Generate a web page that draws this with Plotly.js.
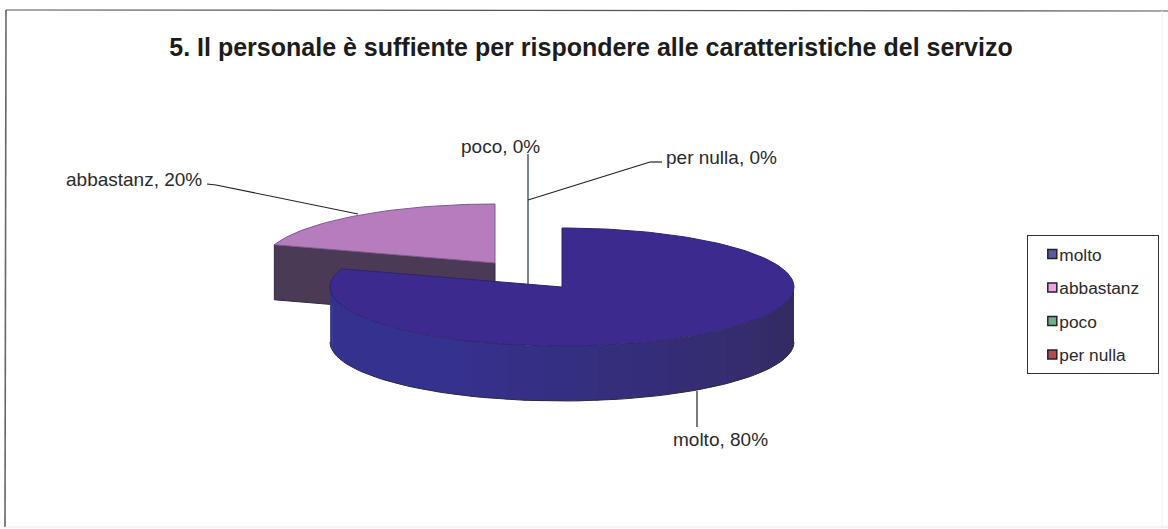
<!DOCTYPE html>
<html><head><meta charset="utf-8">
<script src="https://cdn.plot.ly/plotly-3.0.1.min.js"></script>
<style>html,body{margin:0;padding:0;background:#fff}#c{width:1168px;height:529px}</style>
</head><body><div id="c"></div>
<script>
const categories = ['molto','abbastanz','poco','per nulla'];
const percents = [80,20,0,0];
const titleText = '5. Il personale è suffiente per rispondere alle caratteristiche del servizo';

const topColors = ['#3c2a8e','#b67cbc','#6aa77f','#a84a50'];
const legendColors = ['#5b5a9c','#f2a4e2','#6fae84','#b24c52'];
const edgeColor = '#2a2a40';
const centers = [[562,287],[495,263],[528,285],[528,285]];
const RX = 232, RY = 59, DEPTH = 55;
const font = 'Liberation Sans, Arial, sans-serif';

function pt(c, deg, dy){
  const a = deg*Math.PI/180;
  return [c[0]+RX*Math.sin(a), c[1]-RY*Math.cos(a)+(dy||0)];
}
function mixHex(a,b,t){
  const p=s=>[1,3,5].map(i=>parseInt(s.substr(i,2),16));
  const A=p(a),B=p(b);
  return 'rgb('+A.map((v,i)=>Math.round(v+(B[i]-v)*t)).join(',')+')';
}
function poly(xy,color,line){
  return {type:'scatter',mode:'lines',x:xy.map(p=>p[0]),y:xy.map(p=>p[1]),fill:'toself',
    fillcolor:color,line:line||{width:0,color:color},showlegend:false,hoverinfo:'skip'};
}
const traces = [];
let cum = 0;
const spans = percents.map(v=>{const s=[cum,cum+v*3.6];cum+=v*3.6;return s;});

function drawSlice(i){
  const [s,e] = spans[i];
  if (e<=s) return;
  const c = centers[i];
  if (i===1){
    const A=pt(c,s),B=[c[0],c[1]];
    traces.push(poly([A,B,[B[0],B[1]+DEPTH],[A[0],A[1]+DEPTH],A],'#4a3a56',{width:1,color:'#2f2a3c'}));
  }
  const wallFrom = Math.max(s,90), wallTo = Math.min(e,270);
  if (wallTo>wallFrom){
    const n = 40, step=(wallTo-wallFrom)/n;
    for(let k=0;k<n;k++){
      const a0=wallFrom+k*step,a1=a0+step+0.8;
      const q=[];
      for(let m=0;m<=4;m++) q.push(pt(c,a0+(a1-a0)*m/4));
      for(let m=4;m>=0;m--) q.push(pt(c,a0+(a1-a0)*m/4,DEPTH));
      const t=(a0-wallFrom)/(wallTo-wallFrom);
      traces.push(poly(q,mixHex('#332a5e','#35318f',Math.min(1,t*1.5))));
    }
    const rim=[];
    for(let a=wallFrom;a<=wallTo+0.01;a+=2) rim.push(pt(c,a,DEPTH));
    traces.push({type:'scatter',mode:'lines',x:rim.map(p=>p[0]),y:rim.map(p=>p[1]),
      line:{width:1,color:edgeColor},showlegend:false,hoverinfo:'skip'});
  }
  const face=[[c[0],c[1]]];
  for(let a=s;a<e;a+=1.5) face.push(pt(c,a));
  face.push(pt(c,e)); face.push([c[0],c[1]]);
  traces.push(poly(face,topColors[i],{width:1,color:i===0?'#2d2470':'#7d5a94'}));
}
drawSlice(1);
drawSlice(0);

categories.forEach((name,i)=>traces.push({type:'scatter',mode:'markers',x:[null],y:[null],name:name,
  legendgroup:name,showlegend:true,hoverinfo:'skip',
  marker:{symbol:'square',size:9,color:legendColors[i],line:{width:1.5,color:'#22222e'}}}));

const labelAt = [[720.5,439],[133.5,179],[500,146],[721.5,157]];
const annotations = categories.map((name,i)=>({xref:'x',yref:'y',x:labelAt[i][0],y:labelAt[i][1],
  text:name+', '+percents[i]+'%',showarrow:false,xanchor:'center',yanchor:'middle',
  font:{family:font,size:19,color:'#2a2a2a'}}));

function seg(x0,y0,x1,y1,color,w){return {type:'line',xref:'x',yref:'y',x0,y0,x1,y1,line:{color,width:w||1.2}};}
const shapes=[
  seg(6,10,1168,11,'#555',1.2), seg(6,10,5,527,'#666',1.6),
  seg(5,527,1168,527,'#e6e6e6',1), seg(1162,11,1162,527,'#f0f0f0',1),
  seg(697,391,697,427,'#222'),
  seg(528,154,528,285,'#33424f',1.3),
  seg(528,200,650,162,'#222'), seg(650,162,662,162,'#222'),
  seg(207,184,216,185,'#222'), seg(216,185,358,214,'#222')
];

const layout={
  width:1168,height:529,margin:{l:0,r:0,t:0,b:0},paper_bgcolor:'#fff',plot_bgcolor:'#fff',
  title:{text:titleText,x:591/1168,xanchor:'center',xref:'paper',y:1-47/529,yanchor:'middle',yref:'container',
    font:{family:font,size:25,color:'#1c1c1c',weight:'bold'}},
  xaxis:{range:[0,1168],visible:false,fixedrange:true},
  yaxis:{range:[529,0],visible:false,fixedrange:true},
  showlegend:true,
  legend:{x:1027/1168,xanchor:'left',y:1-235/529,yanchor:'top',bgcolor:'#fff',bordercolor:'#333',borderwidth:1.3,
    font:{family:font,size:17.3,color:'#2a2a2a'},tracegroupgap:8,traceorder:'grouped',indentation:-9,
    itemclick:false,itemdoubleclick:false},
  annotations,shapes
};
Plotly.newPlot('c',traces,layout,{displayModeBar:false,staticPlot:true}).then(()=>{
  document.querySelectorAll('.legend .legendsymbols').forEach(g=>g.setAttribute('transform','translate(13,0)'));
  const bg=document.querySelector('.legend rect.bg');
  if(bg) bg.setAttribute('width','131');
});
</script></body></html>
